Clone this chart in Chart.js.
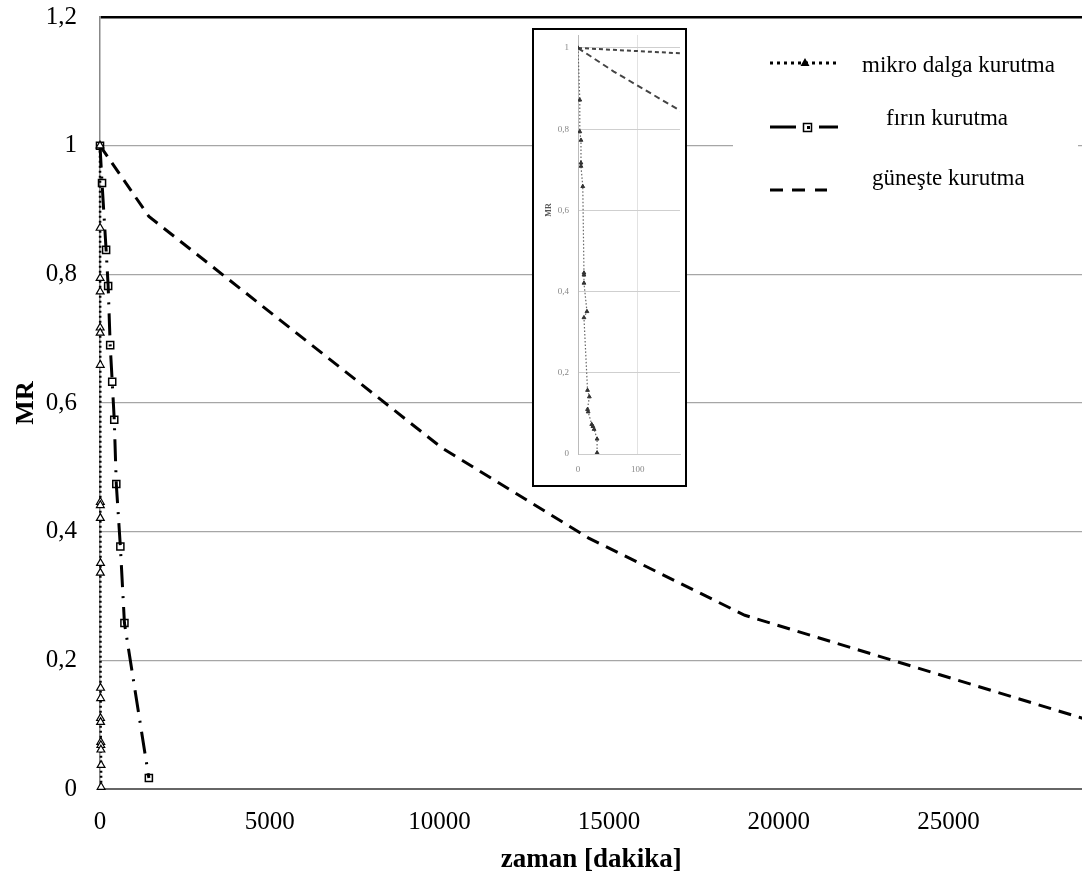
<!DOCTYPE html>
<html>
<head>
<meta charset="utf-8">
<script src="https://cdn.jsdelivr.net/npm/chart.js@4.4.1/dist/chart.umd.min.js"></script>
<style>
  html, body { margin: 0; padding: 0; background: #fff; overflow: hidden; }
  #wrap { position: relative; width: 1082px; height: 876px; overflow: hidden; }
  #main { position: absolute; left: 0; top: 0; }
  #insetBox { position: absolute; left: 532px; top: 28px; width: 151px; height: 455px; border: 2px solid #000; background: #fff; overflow: hidden; }
  #inset { filter: blur(0.6px); }
</style>
</head>
<body>
<div id="wrap">
  <canvas id="main" width="1089" height="876"></canvas>
  <div id="insetBox"><canvas id="inset" width="151" height="455"></canvas></div>
</div>
<script>
// ---- data (time in minutes, MR) ----
const microTime = [0, 3, 3, 5, 5, 5, 8, 10, 10, 10, 15, 10, 16, 19, 16, 17, 23, 25, 27, 32, 32];
const microMR   = [1, 0.872, 0.794, 0.773, 0.717, 0.709, 0.659, 0.446, 0.441, 0.421, 0.351, 0.336, 0.157, 0.141, 0.110, 0.104, 0.073, 0.068, 0.061, 0.037, 0.003];

const ovenTime = [0, 60, 180, 240, 300, 360, 420, 480, 600, 720, 1440];
const ovenMR   = [1, 0.942, 0.838, 0.782, 0.690, 0.633, 0.574, 0.474, 0.377, 0.258, 0.017];

const sunTime = [0, 1440, 10080, 14400, 19000, 28950];
const sunMR   = [1, 0.89, 0.53, 0.39, 0.27, 0.11];

const seriesNames = ['mikro dalga kurutma', 'fırın kurutma', 'güneşte kurutma'];
const xTitle = 'zaman [dakika]';
const yTitle = 'MR';
const xTicks = [0, 5000, 10000, 15000, 20000, 25000];
const yTicks = [0, 0.2, 0.4, 0.6, 0.8, 1, 1.2];
const insetXTicks = [0, 100];
const insetYTicks = [0, 0.2, 0.4, 0.6, 0.8, 1];

const pts = (xs, ys) => xs.map((x, i) => ({x: x, y: ys[i]}));
const comma = v => String(Math.round(v * 10) / 10).replace('.', ',');
const SERIF = '"Liberation Serif", "Times New Roman", serif';
const setTicks = vals => (s => { s.ticks = vals.map(v => ({value: v})); });

// ---- legend plugin ----
const legendPlugin = {
  id: 'customLegend',
  afterDatasetsDraw(chart) {
    const c = chart.ctx;
    c.save();
    c.fillStyle = '#fff';
    c.fillRect(733, 24, 345, 210);
    c.strokeStyle = '#000'; c.fillStyle = '#000';
    c.lineWidth = 3; c.setLineDash([3, 4]);
    c.beginPath(); c.moveTo(770, 63); c.lineTo(838, 63); c.stroke();
    c.setLineDash([]);
    c.beginPath(); c.moveTo(805, 58); c.lineTo(809.5, 66); c.lineTo(800.5, 66); c.closePath(); c.fill();
    c.lineWidth = 3;
    c.beginPath(); c.moveTo(770, 127); c.lineTo(796, 127); c.moveTo(819, 127); c.lineTo(838, 127); c.stroke();
    c.lineWidth = 1.5;
    c.strokeRect(803.5, 123.5, 8, 8);
    c.fillRect(807, 126, 3, 3);
    c.lineWidth = 3;
    c.beginPath();
    c.moveTo(770, 190); c.lineTo(783, 190);
    c.moveTo(792, 190); c.lineTo(805, 190);
    c.moveTo(815, 190); c.lineTo(827, 190);
    c.stroke();
    c.font = '23px ' + SERIF;
    c.textBaseline = 'alphabetic';
    c.textAlign = 'left';
    c.fillText(seriesNames[0], 862, 72);
    c.fillText(seriesNames[1], 886, 125);
    c.fillText(seriesNames[2], 872, 185);
    c.restore();
  }
};

new Chart(document.getElementById('main'), {
  type: 'scatter',
  data: {
    datasets: [
      {
        label: seriesNames[0],
        data: pts(microTime, microMR),
        showLine: true,
        borderColor: '#000', borderWidth: 2.5, borderDash: [2, 3],
        pointStyle: 'triangle', pointRadius: 4.5, pointBorderWidth: 1.2,
        pointBackgroundColor: '#fff', pointBorderColor: '#000',
        clip: false
      },
      {
        label: seriesNames[1],
        data: pts(ovenTime, ovenMR),
        showLine: true,
        borderColor: '#000', borderWidth: 3, borderDash: [22, 9, 2, 9],
        pointStyle: 'rect', pointRadius: 5, pointBorderWidth: 1.5,
        pointBackgroundColor: 'rgba(255,255,255,0)', pointBorderColor: '#000',
        clip: false
      },
      {
        label: seriesNames[2],
        data: pts(sunTime, sunMR),
        showLine: true,
        borderColor: '#000', borderWidth: 3, borderDash: [13, 8],
        pointRadius: 0,
        clip: false
      }
    ]
  },
  options: {
    responsive: false,
    animation: false,
    layout: { padding: { top: 17, right: 0, left: 0, bottom: 0 } },
    plugins: { legend: { display: false }, tooltip: { enabled: false } },
    scales: {
      x: {
        type: 'linear', min: 0, max: 28950,
        afterBuildTicks: setTicks(xTicks),
        afterFit(s) { s.height = 87; s.paddingLeft = 0; s.paddingRight = 0; },
        grid: { display: false, drawTicks: false },
        border: { display: true, color: '#666', width: 2 },
        ticks: {
          padding: 18, autoSkip: false, maxRotation: 0,
          color: '#000', font: { family: SERIF, size: 25 },
          callback: v => String(v)
        },
        title: { display: true, text: xTitle, color: '#000',
          font: { family: SERIF, size: 27, weight: 'bold' },
          padding: { top: 0, bottom: 0 } }
      },
      y: {
        type: 'linear', min: 0, max: 1.2,
        afterBuildTicks: setTicks(yTicks),
        afterFit(s) { s.width = 100; s.paddingTop = 0; s.paddingBottom = 0; },
        grid: {
          drawTicks: false,
          color: ctx => ctx.tick && Math.abs(ctx.tick.value - 1.2) < 1e-6 ? '#000' : '#a6a6a6',
          lineWidth: ctx => ctx.tick && Math.abs(ctx.tick.value - 1.2) < 1e-6 ? 2.5 : 1.3
        },
        border: { display: true, color: '#888', width: 1.5 },
        ticks: {
          padding: 23, autoSkip: false,
          color: '#000', font: { family: SERIF, size: 25 },
          callback: v => comma(v)
        },
        title: { display: true, text: yTitle, color: '#000',
          font: { family: SERIF, size: 26, weight: 'bold' },
          padding: { top: 11, bottom: 0 } }
      }
    }
  },
  plugins: [legendPlugin]
});

// ---- inset (zoom of first minutes) ----
const insetTitle = {
  id: 'insetTitle',
  afterDraw(chart) {
    const c = chart.ctx;
    c.save();
    c.translate(15, 180);
    c.rotate(-Math.PI / 2);
    c.font = 'bold 8px ' + SERIF;
    c.fillStyle = '#555';
    c.textAlign = 'center';
    c.textBaseline = 'middle';
    c.fillText(yTitle, 0, 0);
    c.restore();
  }
};

new Chart(document.getElementById('inset'), {
  type: 'scatter',
  data: {
    datasets: [
      { data: pts(microTime, microMR), showLine: true, borderColor: '#666', borderWidth: 1.2, borderDash: [1.5, 2],
        pointStyle: 'triangle', pointRadius: 2.2, pointBackgroundColor: '#333', pointBorderColor: '#333', pointBorderWidth: 1 },
      { data: pts(ovenTime, ovenMR), showLine: true, borderColor: '#444', borderWidth: 2, borderDash: [6, 4],
        pointRadius: 0 },
      { data: pts(sunTime, sunMR), showLine: true, borderColor: '#444', borderWidth: 2, borderDash: [4, 3], pointRadius: 0 }
    ]
  },
  options: {
    responsive: false,
    animation: false,
    layout: { padding: 0 },
    plugins: { legend: { display: false }, tooltip: { enabled: false } },
    scales: {
      x: {
        type: 'linear', min: 0, max: 171,
        afterBuildTicks: setTicks(insetXTicks),
        afterFit(s) { s.height = 31; s.paddingLeft = 0; s.paddingRight = 0; },
        grid: { display: true, color: '#e2e2e2', drawTicks: false },
        border: { color: '#ccc' },
        ticks: { padding: 10, color: '#888', autoSkip: false,
          font: { family: SERIF, size: 9 }, callback: v => String(v) }
      },
      y: {
        type: 'linear', min: 0, max: 1.032,
        afterBuildTicks: setTicks(insetYTicks),
        afterFit(s) { s.width = 44; s.paddingTop = 0; s.paddingBottom = 0; },
        grid: { color: '#cfcfcf', drawTicks: false },
        border: { color: '#bbb' },
        ticks: { padding: 9, color: '#888', autoSkip: false,
          font: { family: SERIF, size: 9 }, callback: v => comma(v) }
      }
    }
  },
  plugins: [insetTitle]
});
</script>
</body>
</html>
